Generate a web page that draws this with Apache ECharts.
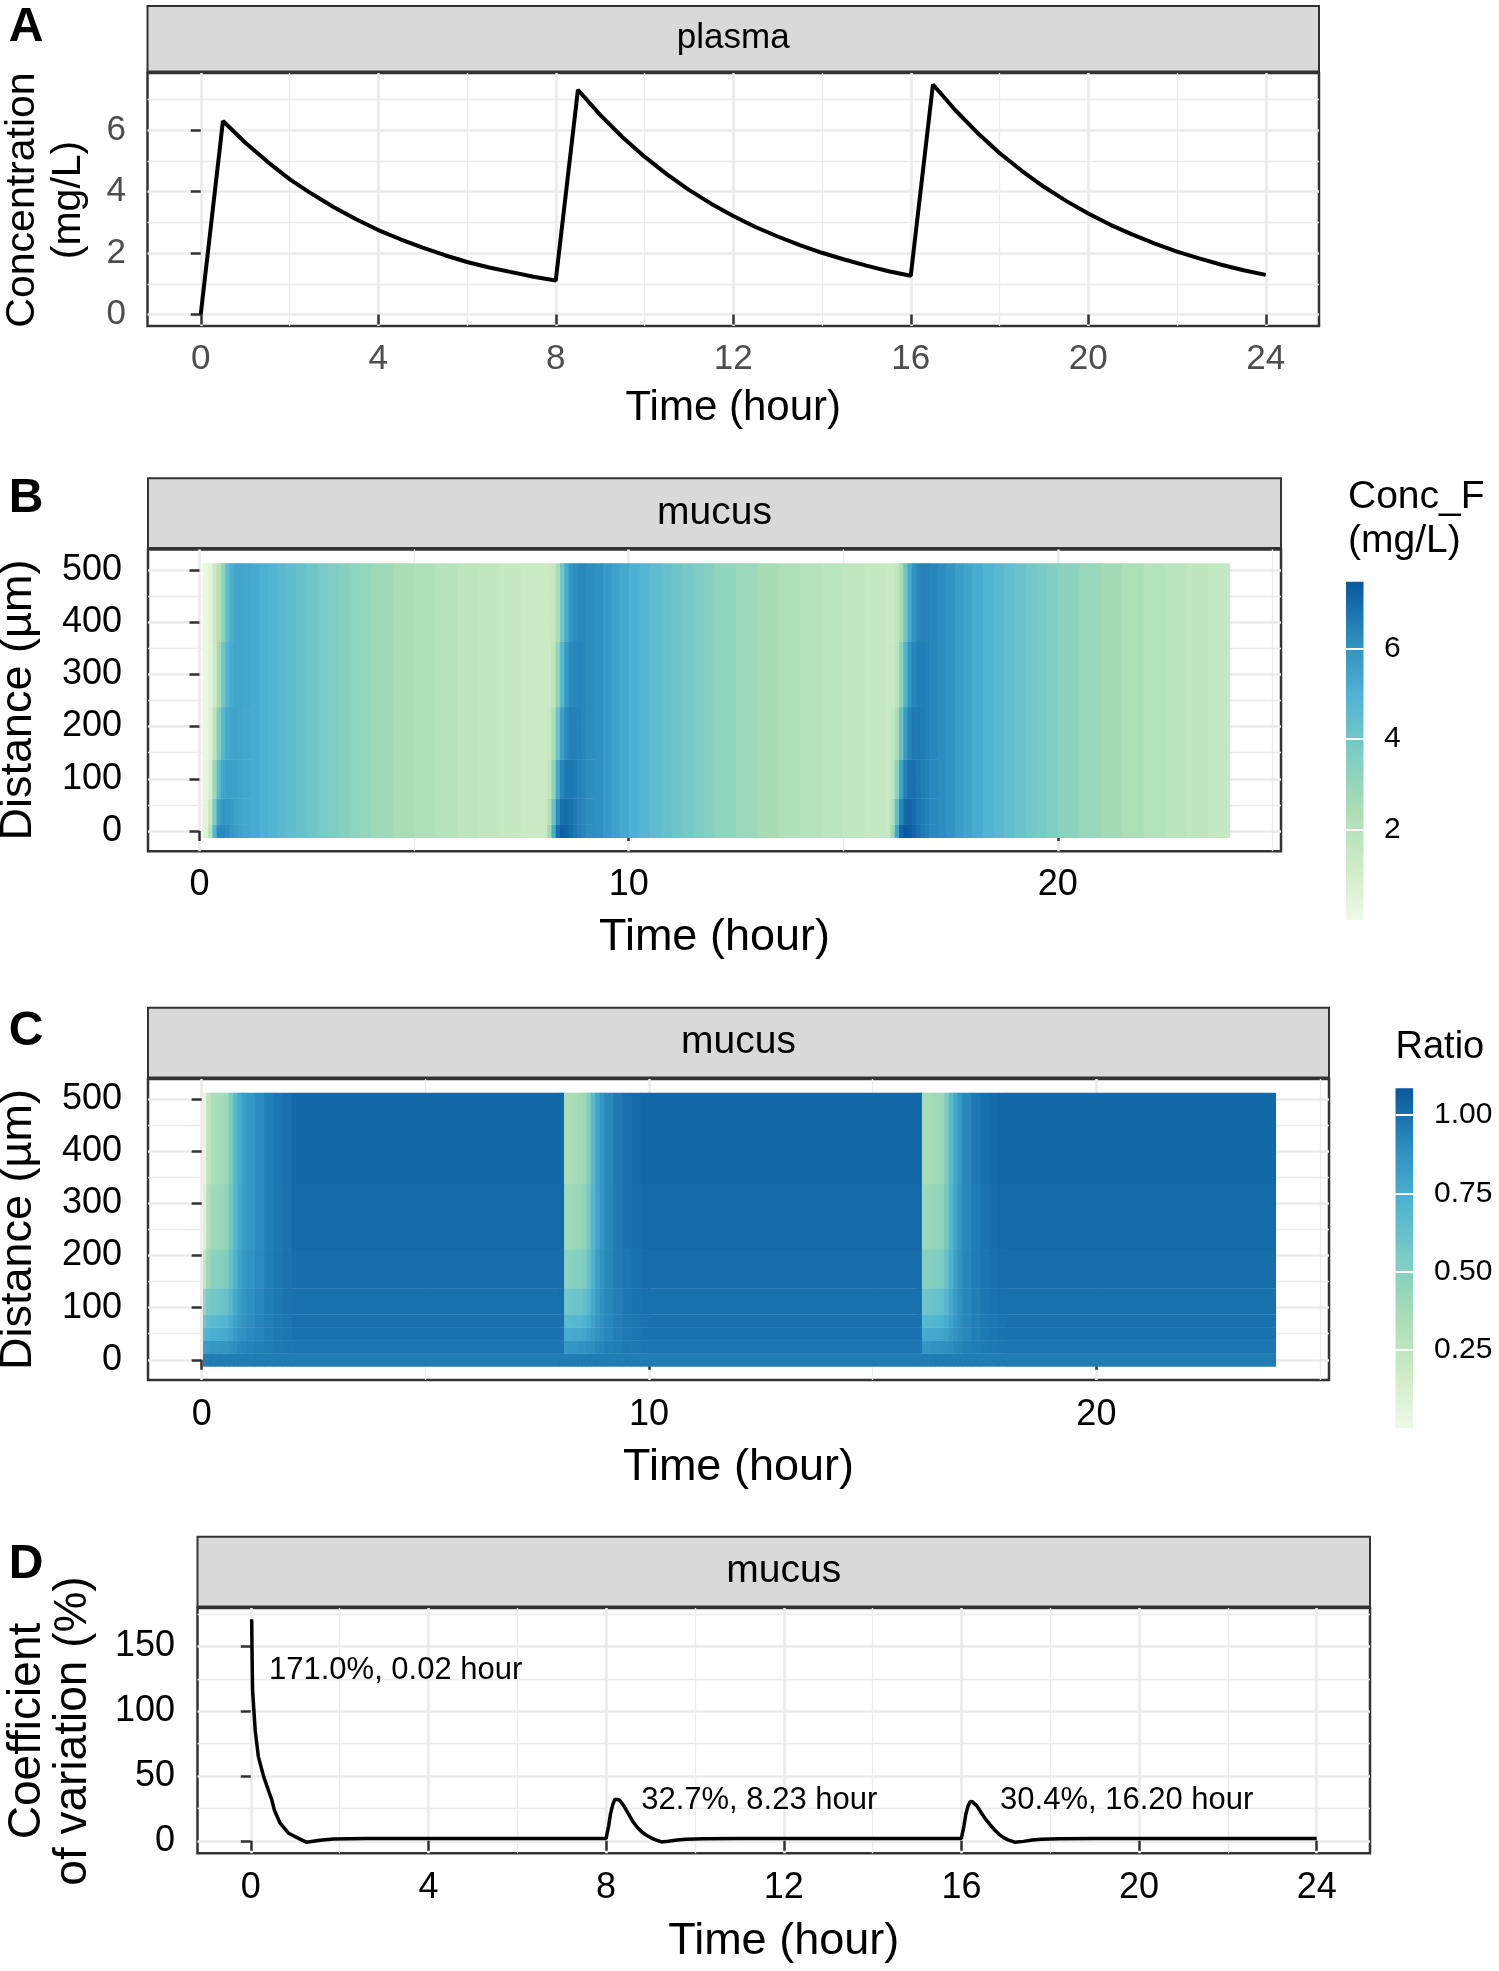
<!DOCTYPE html>
<html>
<head>
<meta charset="utf-8">
<script src="https://cdn.jsdelivr.net/npm/echarts@6/dist/echarts.min.js"></script>
<style>
html,body{margin:0;padding:0;background:#ffffff;}
#chart{width:1499px;height:1971px;}
</style>
</head>
<body>
<div id="chart"></div>
<script>
// ---------------- DATA ----------------
const GnBu = ['#f0f9e8','#ccebc5','#a8ddb5','#7bccc4','#4eb3d3','#2b8cbe','#08589e'];

// Panel A: plasma concentration (mg/L) vs time (hour)
const plasmaTime = [0,0.5,1,1.5,2,2.5,3,3.5,4,4.5,5,5.5,6,6.5,7,7.5,8,
  8.5,9,9.5,10,10.5,11,11.5,12,12.5,13,13.5,14,14.5,15,15.5,16,
  16.5,17,17.5,18,18.5,19,19.5,20,20.5,21,21.5,22,22.5,23,23.5,24];
const plasmaConc = [0,6.30,5.60,4.98,4.41,3.93,3.49,3.10,2.75,2.45,2.18,1.93,1.71,1.53,1.38,1.23,1.11,
  7.32,6.50,5.78,5.14,4.57,4.06,3.61,3.21,2.85,2.54,2.26,2.01,1.79,1.59,1.41,1.26,
  7.49,6.66,5.92,5.26,4.68,4.16,3.70,3.29,2.92,2.60,2.31,2.05,1.83,1.62,1.44,1.29];

// Panel B: mucus Conc_F (mg/L)
// onset window after each dose: columns differ by distance band
const onsetEdgesB = [0.05,0.1,0.2,0.3,0.4,0.5,0.6,0.7,0.8,0.9,1.0,1.2,
  8.0,8.1,8.2,8.3,8.4,8.5,8.6,8.7,8.8,8.9,9.0,9.2,
  16.0,16.1,16.2,16.3,16.4,16.5,16.6,16.7,16.8,16.9,17.0,17.2];
const distEdgesB = [-12.5, 12.5, 62.5, 137.5, 237.5, 362.5, 512.5];
const concB_0 = [0.2,0.6,2.0,4.8,6.2,6.3,6.1,5.85,5.65,5.5,5.35,
  1.35,2.6,5.2,6.9,7.3,7.2,6.95,6.7,6.5,6.35,6.15,
  1.45,2.8,5.4,7.1,7.45,7.35,7.1,6.85,6.65,6.5,6.3];
const concB_25to50 = [0.15,0.4,1.4,3.8,5.5,5.9,5.85,5.75,5.6,5.5,5.35,
  1.3,2.0,4.2,6.2,6.9,7.0,6.85,6.65,6.5,6.35,6.15,
  1.42,2.1,4.4,6.4,7.05,7.15,7.0,6.8,6.65,6.5,6.3];
const concB_75to125 = [0.12,0.3,0.9,2.8,4.7,5.4,5.6,5.6,5.55,5.45,5.35,
  1.3,1.6,3.2,5.3,6.4,6.7,6.7,6.6,6.45,6.35,6.15,
  1.4,1.7,3.3,5.5,6.55,6.85,6.85,6.75,6.6,6.5,6.3];
const concB_150to225 = [0.1,0.25,0.6,1.8,3.6,4.8,5.3,5.45,5.5,5.45,5.35,
  1.28,1.45,2.3,4.2,5.6,6.3,6.5,6.5,6.45,6.35,6.2,
  1.4,1.55,2.4,4.3,5.75,6.45,6.65,6.65,6.6,6.5,6.35];
const concB_250to350 = [0.1,0.2,0.45,1.2,2.6,4.0,4.9,5.3,5.45,5.45,5.4,
  1.27,1.35,1.8,3.2,4.8,5.8,6.25,6.4,6.4,6.35,6.2,
  1.4,1.45,1.9,3.3,4.9,5.95,6.4,6.55,6.55,6.5,6.35];
const concB_375to500 = [0.1,0.2,0.5,1.3,2.1,3.2,4.5,5.1,5.4,5.45,5.4,
  1.27,1.3,1.5,2.4,4.0,5.2,5.9,6.2,6.3,6.3,6.2,
  1.4,1.42,1.6,2.5,4.1,5.3,6.0,6.35,6.45,6.45,6.35];
// later part of each interval: same colour at every distance
const decayEdgesB = [1.2,1.4,1.6,1.8,2.0,2.25,2.5,2.75,3.0,3.25,3.5,3.75,4.0,4.5,5.0,5.5,6.0,6.5,7.0,7.5,8.0,
  9.2,9.4,9.6,9.8,10.0,10.25,10.5,10.75,11.0,11.25,11.5,11.75,12.0,12.5,13.0,13.5,14.0,14.5,15.0,15.5,16.0,
  17.2,17.4,17.6,17.8,18.0,18.25,18.5,18.75,19.0,19.25,19.5,19.75,20.0,20.5,21.0,21.5,22.0,22.5,23.0,23.5,24.0];
const concB_decay = [5.25,5.05,4.88,4.7,4.5,4.28,4.06,3.85,3.63,3.42,3.22,3.03,2.76,2.46,2.2,1.97,1.77,1.6,1.45,1.31,
  6.05,5.8,5.55,5.3,5.05,4.8,4.55,4.32,4.1,3.88,3.67,3.47,3.17,2.83,2.53,2.26,2.02,1.82,1.64,1.48,
  6.2,5.95,5.7,5.45,5.2,4.93,4.68,4.44,4.21,3.99,3.78,3.57,3.26,2.91,2.6,2.33,2.08,1.87,1.69,1.52];
const concRangeB = [0, 7.47];
const concLegendTicks = [2, 4, 6];

// Panel C: mucus Ratio
const timeEdgesC = [0.03,0.1,0.2,0.3,0.4,0.5,0.6,0.7,0.8,0.9,1.0,1.2,1.4,1.6,1.8,2.0,
  8.0,8.1,8.2,8.3,8.4,8.5,8.6,8.7,8.8,8.9,9.0,9.2,9.4,9.6,9.8,10.0,
  16.0,16.1,16.2,16.3,16.4,16.5,16.6,16.7,16.8,16.9,17.0,17.2,17.4,17.6,17.8,18.0,24.0];
const distEdgesC = [-12.5, 12.5, 37.5, 62.5, 87.5, 137.5, 212.5, 337.5, 512.5];
const ratioC_0 = [0.96,0.96,0.96,0.96,0.96,0.96,0.96,0.96,0.96,0.96,0.96,0.96,0.96,0.96,0.96,0.96,
  0.96,0.96,0.96,0.96,0.96,0.96,0.96,0.96,0.96,0.96,0.96,0.96,0.96,0.96,0.96,0.96,
  0.96,0.96,0.96,0.96,0.96,0.96,0.96,0.96,0.96,0.96,0.96,0.96,0.96,0.96,0.96,0.96];
const ratioC_25 = [0.82,0.84,0.85,0.85,0.86,0.86,0.88,0.90,0.92,0.93,0.94,0.95,0.96,0.97,0.98,0.98,
  0.98,0.85,0.86,0.86,0.87,0.87,0.89,0.90,0.92,0.93,0.95,0.96,0.97,0.975,0.98,0.98,
  0.98,0.86,0.86,0.87,0.87,0.88,0.89,0.90,0.92,0.93,0.95,0.96,0.97,0.975,0.98,0.98];
const ratioC_50 = [0.70,0.73,0.74,0.75,0.76,0.77,0.80,0.84,0.87,0.89,0.91,0.93,0.95,0.97,0.98,0.99,
  0.99,0.75,0.76,0.77,0.77,0.78,0.81,0.84,0.87,0.90,0.92,0.95,0.97,0.98,0.99,0.99,
  0.99,0.76,0.77,0.77,0.78,0.79,0.81,0.84,0.87,0.90,0.92,0.95,0.97,0.98,0.99,0.99];
const ratioC_75 = [0.60,0.65,0.67,0.68,0.69,0.70,0.75,0.80,0.84,0.87,0.90,0.93,0.95,0.97,0.98,0.995,
  0.995,0.67,0.68,0.69,0.70,0.71,0.75,0.80,0.85,0.89,0.92,0.95,0.97,0.98,0.99,0.995,
  0.995,0.68,0.69,0.70,0.71,0.72,0.76,0.80,0.85,0.89,0.92,0.95,0.97,0.98,0.99,0.995];
const ratioC_100to125 = [0.45,0.55,0.58,0.59,0.60,0.62,0.69,0.77,0.82,0.86,0.89,0.92,0.95,0.97,0.99,1.00,
  1.00,0.58,0.59,0.60,0.61,0.63,0.69,0.77,0.83,0.88,0.92,0.95,0.98,0.99,1.00,1.00,
  1.00,0.59,0.60,0.61,0.62,0.64,0.70,0.77,0.83,0.88,0.92,0.95,0.98,0.99,1.00,1.00];
const ratioC_150to200 = [0.25,0.42,0.48,0.49,0.50,0.53,0.63,0.73,0.80,0.84,0.87,0.91,0.95,0.97,0.99,1.01,
  1.01,0.48,0.49,0.50,0.51,0.53,0.62,0.73,0.81,0.87,0.92,0.96,0.98,1.00,1.01,1.01,
  1.01,0.49,0.50,0.51,0.52,0.54,0.63,0.73,0.81,0.87,0.92,0.96,0.98,1.00,1.01,1.01];
const ratioC_225to325 = [0.10,0.32,0.40,0.41,0.42,0.45,0.58,0.70,0.78,0.82,0.86,0.91,0.95,0.97,0.99,1.02,
  1.02,0.40,0.41,0.42,0.43,0.45,0.56,0.70,0.79,0.86,0.92,0.96,0.99,1.01,1.02,1.02,
  1.02,0.41,0.42,0.43,0.44,0.46,0.57,0.70,0.79,0.86,0.92,0.96,0.99,1.01,1.02,1.02];
const ratioC_350to500 = [0.04,0.25,0.35,0.36,0.37,0.40,0.55,0.68,0.76,0.81,0.86,0.91,0.95,0.98,1.00,1.03,
  1.03,0.35,0.36,0.37,0.38,0.40,0.52,0.68,0.78,0.85,0.92,0.97,1.00,1.02,1.03,1.03,
  1.03,0.36,0.37,0.38,0.39,0.41,0.53,0.68,0.78,0.85,0.92,0.97,1.00,1.02,1.03,1.03];
const ratioRangeC = [0, 1.085];
const ratioLegendTicks = [0.25, 0.5, 0.75, 1.0];

// Panel D: coefficient of variation (%)
const cvTime = [0.02,0.03,0.04,0.1,0.17,0.29,0.42,0.47,0.53,0.66,0.85,1.11,1.25,1.56,1.86,2.6,4,6,8.0,
  8.02,8.06,8.1,8.15,8.2,8.23,8.3,8.4,8.5,8.6,8.7,8.8,8.9,9.0,9.1,9.25,9.4,9.6,9.8,10.2,11,13,16.0,
  16.02,16.06,16.1,16.15,16.2,16.25,16.35,16.45,16.55,16.65,16.75,16.85,16.95,17.05,17.2,17.4,17.6,17.8,18.2,19,21,24];
const cvValue = [171,140,116,85,65,49.5,36.7,32,23.8,13.6,5.9,1.3,-1.0,0.5,1.5,1.8,1.9,1.9,1.9,
  2.5,12,21,28,32.2,32.7,31.5,27,21,15,10.5,7,4.5,2.5,0.9,-0.8,-0.3,0.6,1.2,1.7,1.9,1.9,1.9,
  2.5,12,20.5,27,30.4,30.1,27,21.5,16.5,12.3,8.3,5,2.5,0.8,-1,-0.4,0.6,1.2,1.7,1.9,1.9,1.9];
const cvLabelTime = [0.41, 8.79, 16.87];
const cvLabelValue = [131.5, 31, 31];
const cvLabelText = ['171.0%, 0.02 hour', '32.7%, 8.23 hour', '30.4%, 16.20 hour'];

// Axis ticks
const timeTicksAD = [0,4,8,12,16,20,24];
const timeMinorAD = [2,6,10,14,18,22];
const timeTicksBC = [0,10,20];
const timeMinorBC = [5,15,25];
const concTicksA = [0,2,4,6];
const concMinorA = [1,3,5,7];
const distTicks = [0,100,200,300,400,500];
const distMinor = [50,150,250,350,450];
const cvTicks = [0,50,100,150];
const cvMinor = [25,75,125,175];

// ---------------- BUILD ----------------
const FONT = "'Liberation Sans', Arial, Helvetica, sans-serif";

function zip(a, b) { return a.map((v, i) => [v, b[i]]); }

function buildCellsB() {
  const bands = [concB_0, concB_25to50, concB_75to125, concB_150to225, concB_250to350, concB_375to500];
  const dMin = distEdgesB[0], dMax = distEdgesB[distEdgesB.length - 1];
  const out = [];
  for (let k = 0; k < 3; k++) {
    bands.forEach((vals, g) => {
      for (let j = 0; j < 11; j++) {
        out.push([onsetEdgesB[12 * k + j], onsetEdgesB[12 * k + j + 1], distEdgesB[g], distEdgesB[g + 1], vals[11 * k + j]]);
      }
    });
    for (let j = 0; j < 20; j++) {
      out.push([decayEdgesB[21 * k + j], decayEdgesB[21 * k + j + 1], dMin, dMax, concB_decay[20 * k + j]]);
    }
  }
  return out;
}
function buildCellsC() {
  const bands = [ratioC_0, ratioC_25, ratioC_50, ratioC_75, ratioC_100to125, ratioC_150to200, ratioC_225to325, ratioC_350to500];
  const out = [];
  bands.forEach((vals, g) => {
    for (let i = 0; i < timeEdgesC.length - 1; i++) {
      out.push([timeEdgesC[i], timeEdgesC[i + 1], distEdgesC[g], distEdgesC[g + 1], vals[i]]);
    }
  });
  return out;
}
const cellsB = buildCellsB();
const cellsC = buildCellsC();

function renderCell(params, api) {
  const a = api.coord([api.value(0), api.value(3)]);
  const b = api.coord([api.value(1), api.value(2)]);
  return {
    type: 'rect',
    shape: { x: a[0], y: a[1], width: b[0] - a[0] + 0.7, height: b[1] - a[1] + 0.4 },
    style: { fill: api.visual('color') }
  };
}

const gradStops = GnBu.map((c, i) => ({ offset: i / (GnBu.length - 1), color: c }));
function renderBar(params, api) {
  const a = api.coord([api.value(0), api.value(3)]);
  const b = api.coord([api.value(1), api.value(2)]);
  return {
    type: 'rect',
    shape: { x: a[0], y: a[1], width: b[0] - a[0], height: b[1] - a[1] },
    style: { fill: new echarts.graphic.LinearGradient(0, 1, 0, 0, gradStops) }
  };
}

// Layout (pixels)
const G = {
  A: { left: 147.5, top: 73, width: 1171.5, height: 253 },
  B: { left: 148, top: 549.5, width: 1133, height: 301.8 },
  C: { left: 148, top: 1079, width: 1181, height: 301 },
  D: { left: 197.5, top: 1608, width: 1172.5, height: 245.3 },
  LB: { left: 1346, top: 581.7, width: 17.5, height: 338.3 },
  LC: { left: 1395.5, top: 1088.3, width: 17.5, height: 340 }
};

function gridOf(g, show) {
  return Object.assign({ show: show, borderColor: '#333333', borderWidth: 2.5, backgroundColor: show ? '#ffffff' : 'transparent', containLabel: false, outerBoundsMode: 'none' }, g);
}

function mainAxis(gridIndex, min, max, ticks, opt) {
  return {
    type: 'value', gridIndex: gridIndex, min: min, max: max,
    position: opt.position,
    axisLine: { show: false },
    axisTick: { show: true, inside: false, length: 10, customValues: ticks, lineStyle: { color: '#333333', width: 2.5 } },
    axisLabel: { show: true, customValues: ticks, fontSize: opt.fs, lineHeight: opt.fs, color: opt.color, fontFamily: FONT, margin: opt.margin },
    splitLine: { show: true, lineStyle: { color: '#ebebeb', width: 2.6 } },
    z: 1
  };
}
function minorAxis(gridIndex, min, max, ticks, position) {
  return {
    type: 'value', gridIndex: gridIndex, min: min, max: max, position: position,
    axisLine: { show: false },
    axisTick: { show: false, customValues: ticks },
    axisLabel: { show: false, customValues: ticks },
    splitLine: { show: true, lineStyle: { color: '#ebebeb', width: 1.3 } },
    z: 0
  };
}

const TMIN = -1.2, TMAX = 25.2;
const xAxes = [
  mainAxis(0, TMIN, TMAX, timeTicksAD, { position: 'bottom', fs: 35, color: '#4d4d4d', margin: 16 }),
  minorAxis(0, TMIN, TMAX, timeMinorAD, 'bottom'),
  mainAxis(1, TMIN, TMAX, timeTicksBC, { position: 'bottom', fs: 36, color: '#000000', margin: 16 }),
  minorAxis(1, TMIN, TMAX, timeMinorBC, 'bottom'),
  mainAxis(2, TMIN, TMAX, timeTicksBC, { position: 'bottom', fs: 36, color: '#000000', margin: 17 }),
  minorAxis(2, TMIN, TMAX, timeMinorBC, 'bottom'),
  mainAxis(3, TMIN, TMAX, timeTicksAD, { position: 'bottom', fs: 36, color: '#000000', margin: 17 }),
  minorAxis(3, TMIN, TMAX, timeMinorAD, 'bottom'),
  { type: 'value', gridIndex: 4, min: 0, max: 1, show: false },
  { type: 'value', gridIndex: 5, min: 0, max: 1, show: false }
];
const yAxes = [
  mainAxis(0, -0.3745, 7.8645, concTicksA, { position: 'left', fs: 35, color: '#4d4d4d', margin: 21.5 }),
  minorAxis(0, -0.3745, 7.8645, concMinorA, 'left'),
  mainAxis(1, -38.75, 538.75, distTicks, { position: 'left', fs: 36, color: '#000000', margin: 26 }),
  minorAxis(1, -38.75, 538.75, distMinor, 'left'),
  mainAxis(2, -38.75, 538.75, distTicks, { position: 'left', fs: 36, color: '#000000', margin: 26 }),
  minorAxis(2, -38.75, 538.75, distMinor, 'left'),
  mainAxis(3, -9.6, 179.6, cvTicks, { position: 'left', fs: 36, color: '#000000', margin: 22.5 }),
  minorAxis(3, -9.6, 179.6, cvMinor, 'left'),
  {
    type: 'value', gridIndex: 4, min: concRangeB[0], max: concRangeB[1], position: 'right', z: 10,
    axisLine: { show: false },
    axisTick: { show: false, customValues: concLegendTicks },
    axisLabel: { show: true, customValues: concLegendTicks, fontSize: 30, lineHeight: 30, color: '#000000', fontFamily: FONT, margin: 20.5 },
    splitLine: { show: true, lineStyle: { color: '#ffffff', width: 2 } }
  },
  {
    type: 'value', gridIndex: 5, min: ratioRangeC[0], max: ratioRangeC[1], position: 'right', z: 10,
    axisLine: { show: false },
    axisTick: { show: false, customValues: ratioLegendTicks },
    axisLabel: { show: true, customValues: ratioLegendTicks, fontSize: 30, lineHeight: 30, color: '#000000', fontFamily: FONT, margin: 21, formatter: v => v.toFixed(2) },
    splitLine: { show: true, lineStyle: { color: '#ffffff', width: 2 } }
  }
];

const series = [
  { // 0: Panel A line
    type: 'line', xAxisIndex: 0, yAxisIndex: 0, data: zip(plasmaTime, plasmaConc),
    showSymbol: false, symbol: 'none', lineStyle: { color: '#000000', width: 4 }, itemStyle: { color: '#000000' },
    z: 3, silent: true
  },
  { // 1: Panel B heatmap
    type: 'custom', xAxisIndex: 2, yAxisIndex: 2, data: cellsB, renderItem: renderCell,
    encode: { x: [0, 1], y: [2, 3] }, silent: true, z: 2
  },
  { // 2: Panel C heatmap
    type: 'custom', xAxisIndex: 4, yAxisIndex: 4, data: cellsC, renderItem: renderCell,
    encode: { x: [0, 1], y: [2, 3] }, silent: true, z: 2
  },
  { // 3: Panel D line
    type: 'line', xAxisIndex: 6, yAxisIndex: 6, data: zip(cvTime, cvValue),
    showSymbol: false, symbol: 'none', lineStyle: { color: '#000000', width: 3.5 }, itemStyle: { color: '#000000' },
    z: 3, silent: true
  },
  { // 4: Panel D annotations
    type: 'scatter', xAxisIndex: 6, yAxisIndex: 6, symbolSize: 0, itemStyle: { color: '#000000' },
    data: cvLabelTime.map((t, i) => ({ value: [t, cvLabelValue[i]], name: cvLabelText[i] })),
    label: { show: true, formatter: '{b}', position: 'right', distance: 0, align: 'left', verticalAlign: 'middle', fontSize: 31, fontFamily: FONT, color: '#000000', opacity: 1 },
    silent: true, z: 4
  },
  { // 5: legend bar B
    type: 'custom', xAxisIndex: 8, yAxisIndex: 8, data: [[0, 1, concRangeB[0], concRangeB[1]]], renderItem: renderBar,
    encode: { x: [0, 1], y: [2, 3] }, silent: true, z: 2
  },
  { // 6: legend bar C
    type: 'custom', xAxisIndex: 9, yAxisIndex: 9, data: [[0, 1, ratioRangeC[0], ratioRangeC[1]]], renderItem: renderBar,
    encode: { x: [0, 1], y: [2, 3] }, silent: true, z: 2
  }
];

function txt(x, y, text, size, opts) {
  opts = opts || {};
  return {
    type: 'text', x: x, y: y, rotation: opts.rot || 0, silent: true, z: 100,
    style: { text: text, fontSize: size, fontFamily: FONT, fontWeight: opts.bold ? 'bold' : 'normal', fill: opts.color || '#000000', align: opts.align || 'center', verticalAlign: 'middle' }
  };
}
function strip(g, y0, y1, label, size) {
  return [
    { type: 'rect', silent: true, z: 50, shape: { x: g.left, y: y0, width: g.width, height: y1 - y0 }, style: { fill: '#d9d9d9', stroke: '#333333', lineWidth: 2 } },
    txt(g.left + g.width / 2, (y0 + y1) / 2, label, size)
  ];
}
const R90 = Math.PI / 2;
const graphics = [].concat(
  strip(G.A, 6, 71.5, 'plasma', 35),
  strip(G.B, 478.3, 548, 'mucus', 39),
  strip(G.C, 1007.7, 1077.5, 'mucus', 39),
  strip(G.D, 1536.7, 1606.5, 'mucus', 39),
  [
    txt(26, 28, 'A', 48, { bold: true }),
    txt(26, 499, 'B', 48, { bold: true }),
    txt(26, 1032, 'C', 48, { bold: true }),
    txt(26, 1565, 'D', 48, { bold: true }),
    txt(G.A.left + G.A.width / 2, 408, 'Time (hour)', 42),
    txt(G.B.left + G.B.width / 2, 938, 'Time (hour)', 45),
    txt(G.C.left + G.C.width / 2, 1468, 'Time (hour)', 45),
    txt(G.D.left + G.D.width / 2, 1942, 'Time (hour)', 45),
    txt(23, 200, 'Concentration', 41, { rot: R90 }),
    txt(69, 200, '(mg/L)', 41, { rot: R90 }),
    txt(19, 700, 'Distance (\u00b5m)', 45, { rot: R90 }),
    txt(19, 1229.5, 'Distance (\u00b5m)', 45, { rot: R90 }),
    txt(27, 1731, 'Coefficient', 46, { rot: R90 }),
    txt(73, 1731, 'of variation (%)', 46, { rot: R90 }),
    txt(1348, 497.5, 'Conc_F', 39, { align: 'left' }),
    txt(1348, 541, '(mg/L)', 39, { align: 'left' }),
    txt(1395.5, 1048, 'Ratio', 38, { align: 'left' })
  ]
);

const option = {
  animation: false,
  backgroundColor: '#ffffff',
  textStyle: { fontFamily: FONT },
  grid: [gridOf(G.A, true), gridOf(G.B, true), gridOf(G.C, true), gridOf(G.D, true), gridOf(G.LB, false), gridOf(G.LC, false)],
  xAxis: xAxes,
  yAxis: yAxes,
  visualMap: [
    { type: 'continuous', show: false, seriesIndex: 1, dimension: 4, min: concRangeB[0], max: concRangeB[1], inRange: { color: GnBu } },
    { type: 'continuous', show: false, seriesIndex: 2, dimension: 4, min: ratioRangeC[0], max: ratioRangeC[1], inRange: { color: GnBu } }
  ],
  series: series,
  graphic: graphics
};

const chart = echarts.init(document.getElementById('chart'), null, { renderer: 'canvas', width: 1499, height: 1971 });
chart.setOption(option);
</script>
</body>
</html>
